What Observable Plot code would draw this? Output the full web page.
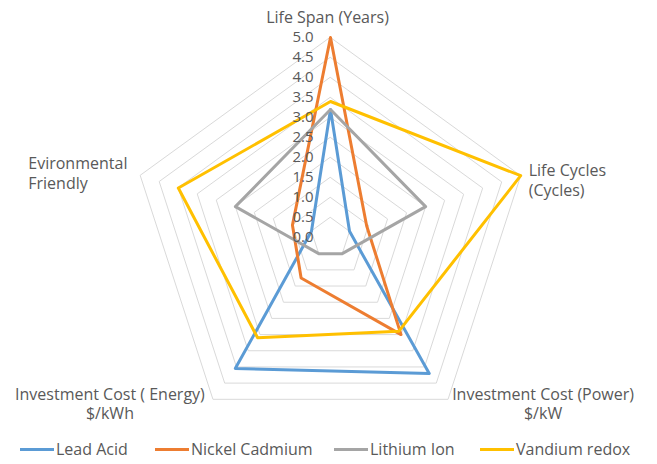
<!DOCTYPE html>
<html>
<head>
<meta charset="utf-8">
<script src="https://cdn.jsdelivr.net/npm/d3@7"></script>
<script src="https://cdn.jsdelivr.net/npm/@observablehq/plot@0.6"></script>
<style>
  html, body { margin: 0; padding: 0; background: #fff; }
  #chart { width: 657px; height: 464px; position: relative; font-family: "Open Sans", sans-serif; }
  #legend { display: flex; align-items: center; height: 30px; padding-left: 20px; font-size: 16px; color: #595959; }
  .item { display: flex; align-items: center; white-space: nowrap; }
  .item:nth-child(1) { width: 135px; }
  .item:nth-child(2) { width: 179px; }
  .item:nth-child(3) { width: 146px; }
  .sw { width: 34px; height: 3px; margin-right: 2px; }
</style>
</head>
<body>
<div id="chart"></div>
<script>
// ---- data ----
const axes = [
  "Life Span (Years)",
  "Life Cycles\n(Cycles)",
  "Investment Cost (Power)\n$/kW",
  "Investment Cost ( Energy)\n$/kWh",
  "Evironmental\nFriendly"
];
const seriesNames = ["Lead Acid", "Nickel Cadmium", "Lithium Ion", "Vandium redox"];
const leadAcid      = [3.2, 0.5, 4.2, 4.05, 0.5];
const nickelCadmium = [5.0, 0.95, 3.0, 1.25, 1.0];
const lithiumIon    = [3.2, 2.5, 0.5, 0.5, 2.5];
const vandiumRedox  = [3.4, 5.0, 2.9, 3.1, 4.0];
const tickValues = [0, 0.5, 1, 1.5, 2, 2.5, 3, 3.5, 4, 4.5, 5];
const tickLabels = ["0.0","0.5","1.0","1.5","2.0","2.5","3.0","3.5","4.0","4.5","5.0"];
const colors = ["#5B9BD5", "#ED7D31", "#A5A5A5", "#FFC000"];

// ---- layout ----
const W = 657, H = 434;
const cx = 330, cy = 237, R = 200, vmax = 5;
const k = R / vmax; // px per unit

const ang = i => (90 - 72 * i) * Math.PI / 180;
const px = (i, v) => v * Math.cos(ang(i));
const py = (i, v) => v * Math.sin(ang(i));

const allSeries = [leadAcid, nickelCadmium, lithiumIon, vandiumRedox];
const seriesData = [];
allSeries.forEach((vals, s) => vals.forEach((v, i) => seriesData.push({series: seriesNames[s], x: px(i, v), y: py(i, v)})));

const ringData = [];
tickValues.filter(t => t > 0).forEach(t => axes.forEach((a, i) => ringData.push({ring: t, x: px(i, t), y: py(i, t)})));

const axisData = axes.map((a, i) => ({label: a, x: px(i, vmax), y: py(i, vmax)}));

const font = {fontFamily: "Open Sans, sans-serif", fill: "#595959"};
const labelFS = 16;

const plot = Plot.plot({
  width: W, height: H, margin: 0,
  x: {domain: [-cx / k, (W - cx) / k], axis: null},
  y: {domain: [-(H - cy) / k, cy / k], axis: null},
  color: {domain: seriesNames, range: colors},
  marks: [
    Plot.line(ringData, {x: "x", y: "y", z: "ring", curve: "linear-closed", stroke: "#D9D9D9", strokeWidth: 1}),
    Plot.line(seriesData, {x: "x", y: "y", z: "series", stroke: "series", curve: "linear-closed", strokeWidth: 3}),
    Plot.text(tickValues, {x: 0, y: d => d, text: (d, i) => tickLabels[i], textAnchor: "end", dx: -17, fontSize: 15, ...font}),
    Plot.text([axisData[0]], {x: "x", y: "y", text: "label", textAnchor: "middle", dx: -3, dy: -20, fontSize: labelFS, ...font}),
    Plot.text([axisData[1]], {x: "x", y: "y", text: "label", textAnchor: "start", lineAnchor: "top", lineHeight: 1.25, dx: 8, dy: -14, fontSize: labelFS, ...font}),
    Plot.text([axisData[2]], {x: "x", y: "y", text: "label", textAnchor: "middle", lineAnchor: "top", lineHeight: 1.25, dx: 95, dy: -14, fontSize: labelFS, ...font}),
    Plot.text([axisData[3]], {x: "x", y: "y", text: "label", textAnchor: "middle", lineAnchor: "top", lineHeight: 1.25, dx: -103, dy: -14, fontSize: labelFS, ...font}),
    Plot.text([axisData[4]], {x: "x", y: "y", text: "label", textAnchor: "start", lineAnchor: "top", lineHeight: 1.25, dx: -112, dy: -21, fontSize: labelFS, ...font})
  ]
});

const chart = document.getElementById("chart");
chart.appendChild(plot);

const legend = document.createElement("div");
legend.id = "legend";
seriesNames.forEach((n, i) => {
  const it = document.createElement("div");
  it.className = "item";
  const sw = document.createElement("div");
  sw.className = "sw";
  sw.style.background = colors[i];
  const tx = document.createElement("span");
  tx.textContent = n;
  it.appendChild(sw); it.appendChild(tx);
  legend.appendChild(it);
});
chart.appendChild(legend);
</script>
</body>
</html>
